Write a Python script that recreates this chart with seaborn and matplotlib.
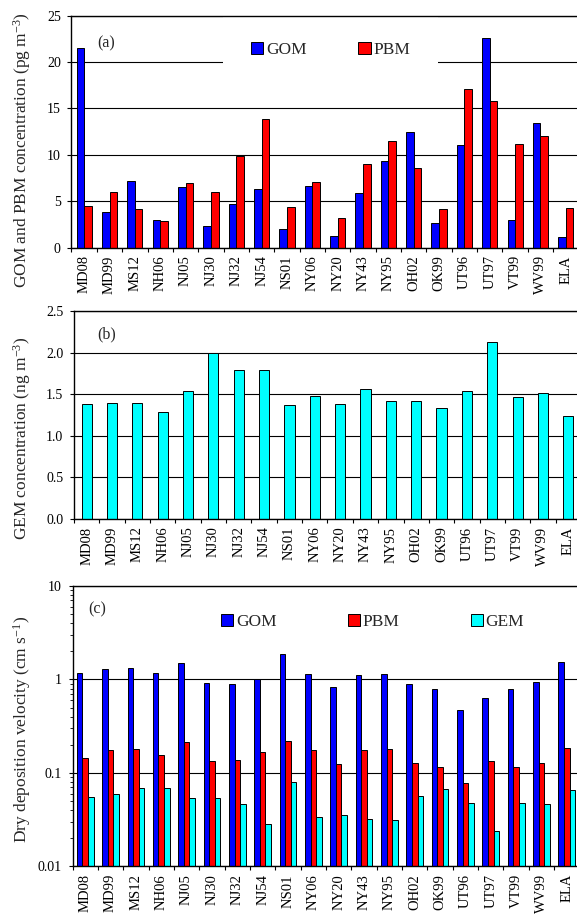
import numpy as np
import pandas as pd
import matplotlib
matplotlib.use('Agg')
import matplotlib.pyplot as plt
import matplotlib.patches as mpatches
from matplotlib import ticker
import seaborn as sns

# site codes along the x axis
sites = ['MD08', 'MD99', 'MS12', 'NH06', 'NJ05', 'NJ30', 'NJ32', 'NJ54', 'NS01', 'NY06',
         'NY20', 'NY43', 'NY95', 'OH02', 'OK99', 'UT96', 'UT97', 'VT99', 'WV99', 'ELA']

# (a) concentrations, pg m-3
gom_conc = [21.5, 3.8, 7.2, 3.0, 6.5, 2.3, 4.7, 6.3, 2.0, 6.6,
            1.2, 5.9, 9.3, 12.4, 2.6, 11.1, 22.6, 3.0, 13.4, 1.1]
pbm_conc = [4.5, 6.0, 4.2, 2.9, 6.9, 6.0, 9.9, 13.8, 4.4, 7.1,
            3.2, 9.0, 11.5, 8.6, 4.2, 17.1, 15.8, 11.2, 12.0, 4.3]

# (b) GEM concentration, ng m-3
gem_conc = [1.38, 1.39, 1.39, 1.29, 1.54, 2.00, 1.79, 1.79, 1.37, 1.48,
            1.38, 1.56, 1.42, 1.42, 1.33, 1.54, 2.13, 1.47, 1.51, 1.24]

# (c) dry deposition velocity, cm s-1
gom_vd = [1.17, 1.28, 1.32, 1.18, 1.49, 0.91, 0.89, 1.00, 1.88, 1.14,
          0.84, 1.11, 1.14, 0.89, 0.80, 0.47, 0.64, 0.80, 0.94, 1.54]
pbm_vd = [0.146, 0.176, 0.180, 0.156, 0.212, 0.134, 0.138, 0.166, 0.218, 0.176,
          0.125, 0.176, 0.180, 0.127, 0.115, 0.078, 0.134, 0.115, 0.127, 0.183]
gem_vd = [0.055, 0.060, 0.069, 0.069, 0.054, 0.054, 0.047, 0.0285, 0.080, 0.0336,
          0.0356, 0.032, 0.0312, 0.0564, 0.067, 0.0478, 0.0238, 0.0478, 0.0467, 0.0664]

BLUE, RED, CYAN = '#0000FF', '#FF0000', '#00FFFF'

sns.set_style('ticks')
plt.rcParams['font.family'] = ['Liberation Serif', 'DejaVu Serif']
plt.rcParams['mathtext.fontset'] = 'custom'
plt.rcParams['mathtext.rm'] = 'Liberation Serif'
plt.rcParams['mathtext.it'] = 'Liberation Serif:italic'
plt.rcParams['axes.edgecolor'] = 'black'
plt.rcParams['axes.linewidth'] = 1.0

n = len(sites)
conc_df = pd.DataFrame({'site': sites * 2,
                        'species': ['GOM'] * n + ['PBM'] * n,
                        'value': gom_conc + pbm_conc})
gem_df = pd.DataFrame({'site': sites, 'value': gem_conc})
vd_df = pd.DataFrame({'site': sites * 3,
                      'species': ['GOM'] * n + ['PBM'] * n + ['GEM'] * n,
                      'value': gom_vd + pbm_vd + gem_vd})


def style_axis(ax):
    ax.set_xlim(-0.5, n - 0.5)
    ax.set_xlabel('')
    ax.set_xticks(range(n))
    ax.set_xticklabels(sites, rotation=90)
    ax.set_xticks(np.arange(-0.5, n), minor=True)
    ax.tick_params(axis='x', which='major', length=0, pad=5.5, labelsize=10.5, colors='black')
    ax.tick_params(axis='x', which='minor', length=3, width=0.8, direction='out', color='black')
    ax.tick_params(axis='y', which='major', length=3.2, width=0.8, direction='out',
                   pad=4.5, labelsize=10, colors='black')
    ax.tick_params(axis='y', which='minor', length=2.2, width=0.6, direction='out', color='black')
    ax.yaxis.grid(True, which='major', color='black', lw=0.8)
    ax.set_axisbelow(True)
    ax.spines['right'].set_visible(False)


fig = plt.figure(figsize=(5.77, 9.14), dpi=100)
W = 0.8787

# (a)
ax_a = fig.add_axes([0.1239, 0.7292, W, 0.2538])
sns.barplot(data=conc_df, x='site', y='value', hue='species', hue_order=['GOM', 'PBM'],
            palette=[BLUE, RED], width=0.6, saturation=1, errorbar=None,
            edgecolor='black', linewidth=0.7, legend=False, ax=ax_a)
style_axis(ax_a)
ax_a.set_ylim(0, 25)
ax_a.set_yticks([0, 5, 10, 15, 20, 25])
ax_a.set_ylabel('GOM and PBM concentration (pg m$^{-3}$)', fontsize=12.5)
ax_a.yaxis.set_label_coords(-0.076, 0.42)
ax_a.text(0.05, 0.916, '(a)', transform=ax_a.transAxes, fontsize=11.5, va='top', ha='left')
h_a = [mpatches.Patch(facecolor=c, edgecolor='black', lw=0.7) for c in [BLUE, RED]]
leg = ax_a.legend(h_a, ['GOM', 'PBM'], ncol=2, loc='center', bbox_to_anchor=(0.511, 0.853),
                  fontsize=12.5, handlelength=0.7, handleheight=0.7, handletextpad=0.15,
                  columnspacing=3.0, borderpad=1.6, frameon=True, fancybox=False,
                  facecolor='white', edgecolor='none', framealpha=1)
leg.set_zorder(2.4)

# (b)
ax_b = fig.add_axes([0.1282, 0.4322, W, 0.2276])
sns.barplot(data=gem_df, x='site', y='value', color=CYAN, width=0.4, saturation=1,
            errorbar=None, edgecolor='black', linewidth=0.7, ax=ax_b)
style_axis(ax_b)
ax_b.set_ylim(0, 2.5)
ax_b.set_yticks(np.arange(0, 2.51, 0.5))
ax_b.yaxis.set_major_formatter(ticker.FormatStrFormatter('%.1f'))
ax_b.set_ylabel('GEM concentration (ng m$^{-3}$)', fontsize=12.5)
ax_b.yaxis.set_label_coords(-0.081, 0.387)
ax_b.text(0.045, 0.9245, '(b)', transform=ax_b.transAxes, fontsize=11.5, va='top', ha='left')

# (c)
ax_c = fig.add_axes([0.1257, 0.052, W, 0.3069])
sns.barplot(data=vd_df, x='site', y='value', hue='species', hue_order=['GOM', 'PBM', 'GEM'],
            palette=[BLUE, RED, CYAN], width=0.66, saturation=1, errorbar=None,
            edgecolor='black', linewidth=0.7, legend=False, ax=ax_c)
ax_c.set_yscale('log')
style_axis(ax_c)
ax_c.set_ylim(0.01, 10)
ax_c.yaxis.set_major_locator(ticker.FixedLocator([0.01, 0.1, 1, 10]))
ax_c.yaxis.set_major_formatter(ticker.FuncFormatter(lambda v, p: f'{v:g}'))
ax_c.yaxis.set_minor_locator(ticker.LogLocator(base=10, subs=np.arange(2, 10)))
ax_c.yaxis.set_minor_formatter(ticker.NullFormatter())
ax_c.set_ylabel('Dry deposition velocity (cm s$^{-1}$)', fontsize=12.5)
ax_c.yaxis.set_label_coords(-0.078, 0.487)
ax_c.text(0.031, 0.944, '(c)', transform=ax_c.transAxes, fontsize=11.5, va='top', ha='left')
h_c = [mpatches.Patch(facecolor=c, edgecolor='black', lw=0.7) for c in [BLUE, RED, CYAN]]
ax_c.legend(h_c, ['GOM', 'PBM', 'GEM'], ncol=3, loc='center', bbox_to_anchor=(0.592, 0.872),
            fontsize=12.5, handlelength=0.7, handleheight=0.7, handletextpad=0.15,
            columnspacing=4.1, frameon=False)

fig.savefig('out.png', dpi=100)
